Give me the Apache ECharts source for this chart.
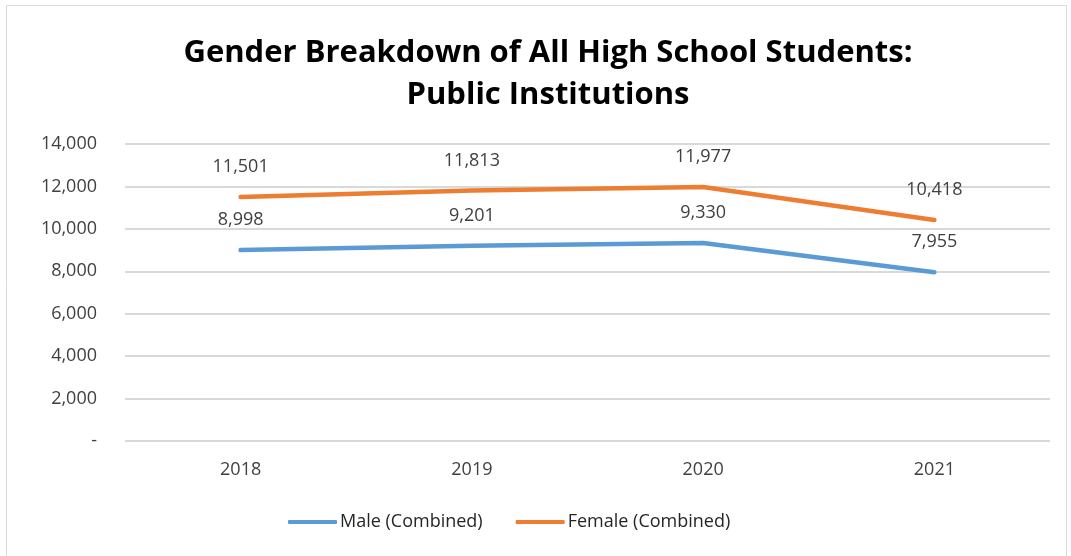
<!DOCTYPE html>
<html>
<head>
<meta charset="utf-8">
<script src="https://cdn.jsdelivr.net/npm/echarts@6/dist/echarts.min.js"></script>
<style>
  html, body { margin: 0; padding: 0; background: #fff; }
  #chart { width: 1071px; height: 556px; }
</style>
</head>
<body>
<div id="chart"></div>
<script>
const years = ['2018', '2019', '2020', '2021'];
const maleValues = [8998, 9201, 9330, 7955];
const femaleValues = [11501, 11813, 11977, 10418];
const seriesNames = ['Male (Combined)', 'Female (Combined)'];

const chart = echarts.init(document.getElementById('chart'));
const fontName = 'Open Sans';

function fmt(v) {
    if (v === 0) return '-';
    return v.toLocaleString('en-US');
}

function makeLine(name, data, color) {
    return {
        name: name,
        type: 'line',
        data: data,
        symbol: 'circle',
        symbolSize: 0,
        lineStyle: {width: 4.5, color: color, cap: 'round'},
        itemStyle: {color: color},
        label: {
            show: true,
            position: 'top',
            distance: 21,
            fontFamily: fontName,
            fontSize: 18,
            color: '#404040',
            formatter: function (p) { return fmt(p.value); }
        }
    };
}

const option = {
    animation: false,
    graphic: [{
        type: 'rect',
        shape: {x: 6.5, y: 5.5, width: 1060, height: 560},
        style: {fill: 'none', stroke: '#d9d9d9', lineWidth: 1}
    }],
    title: {
        text: 'Gender Breakdown of All High School Students:\nPublic Institutions',
        left: 543,
        textAlign: 'center',
        top: 27,
        textStyle: {
            fontFamily: fontName,
            fontWeight: 'bold',
            fontSize: 31,
            lineHeight: 42,
            color: '#000'
        }
    },
    legend: {
        bottom: 20,
        left: 283,
        itemWidth: 49,
        itemHeight: 4,
        itemGap: 33,
        icon: 'roundRect',
        textStyle: {fontFamily: fontName, fontSize: 18, color: '#262626', padding: [0, 0, 0, -2]},
        data: seriesNames
    },
    grid: {left: 125, right: 21, top: 144, bottom: 115},
    xAxis: {
        type: 'category',
        data: years,
        boundaryGap: true,
        axisLine: {show: false},
        axisTick: {show: false},
        axisLabel: {fontFamily: fontName, fontSize: 18, color: '#404040', margin: 20}
    },
    yAxis: {
        type: 'value',
        min: 0,
        max: 14000,
        interval: 2000,
        axisLine: {show: false},
        axisTick: {show: false},
        splitLine: {lineStyle: {color: '#d9d9d9', width: 2}},
        axisLabel: {
            fontFamily: fontName,
            fontSize: 18,
            color: '#404040',
            margin: 28,
            formatter: fmt
        }
    },
    series: [
        makeLine(seriesNames[0], maleValues, '#5b9bd5'),
        makeLine(seriesNames[1], femaleValues, '#ed7d31')
    ]
};

chart.setOption(option);
</script>
</body>
</html>
